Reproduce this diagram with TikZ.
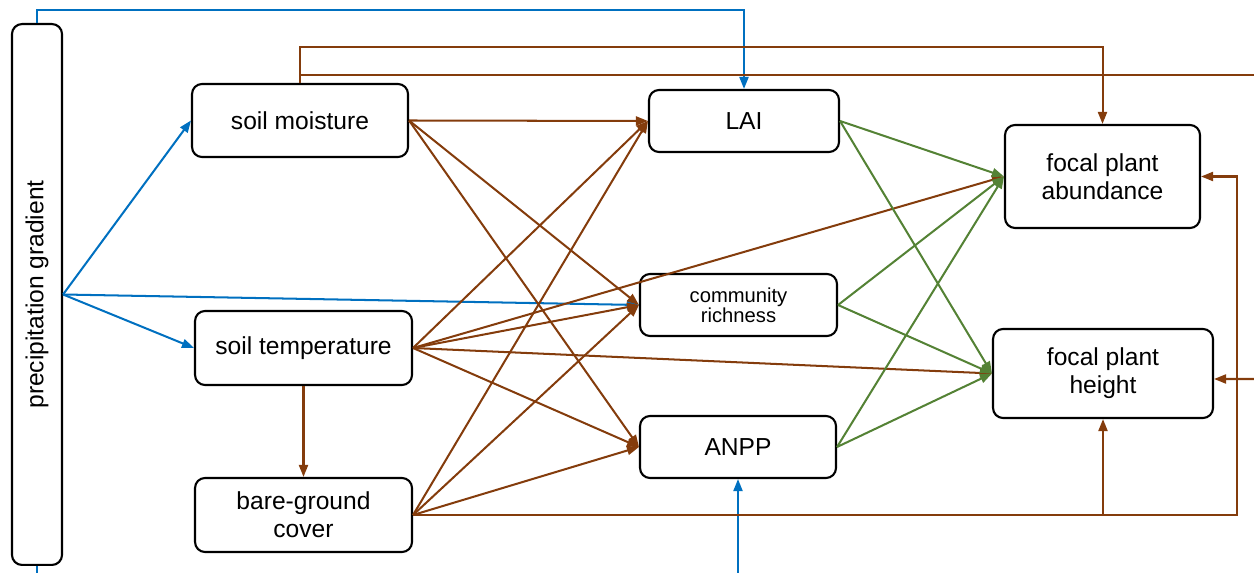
\documentclass[tikz,border=0pt]{standalone}
\usepackage{fontspec}
\setmainfont{Liberation Sans}
\usetikzlibrary{arrows.meta,calc}
\definecolor{cblue}{HTML}{0070C0}
\definecolor{cbrown}{HTML}{843C0C}
\definecolor{cgreen}{HTML}{548235}
\tikzset{
  box/.style={draw=black, line width=1.2pt, rounded corners=0.2cm, inner sep=0pt, align=center,
    font=\fontsize{14}{16}\selectfont},
  conn/.style={line width=1.15pt, -{Triangle[length=0.24cm,width=0.18cm]}},
  bluel/.style={conn, draw=cblue},
  brownl/.style={conn, draw=cbrown},
  greenl/.style={conn, draw=cgreen},
  plainbrown/.style={line width=1.15pt, draw=cbrown},
}
\begin{document}
\begin{tikzpicture}[x=0.02cm,y=-0.02cm]
\useasboundingbox (0,0) rectangle (1254,573);

% nodes
\node[box, minimum width=1.0cm, minimum height=10.82cm] (prec) at (37,294.5)
  {\rotatebox{90}{precipitation gradient}};
\node[box, minimum width=4.32cm, minimum height=1.46cm] (sm) at (300,120.5) {\raisebox{-1.5pt}{soil moisture}};
\node[box, minimum width=4.34cm, minimum height=1.48cm] (st) at (303.5,348) {\raisebox{-1.5pt}{soil temperature}};
\node[box, minimum width=4.34cm, minimum height=1.48cm] (bg) at (303.5,515) {bare-ground\\cover};
\node[box, minimum width=3.8cm, minimum height=1.24cm] (lai) at (744,121) {LAI};
\node[box, minimum width=3.94cm, minimum height=1.24cm, font=\fontsize{11.5}{11.5}\selectfont] (cr) at (738.5,305) {community\\richness};
\node[box, minimum width=3.92cm, minimum height=1.24cm] (anpp) at (738,447) {ANPP};
\node[box, minimum width=3.9cm, minimum height=2.06cm] (fpa) at (1102.5,176.5) {focal plant\\abundance};
\node[box, minimum width=4.4cm, minimum height=1.78cm] (fph) at (1103,373.5) {focal plant\\height};

% blue connectors
\draw[bluel] (prec.north) -- ++(0,-13) -| (lai.north);
\draw[bluel] (prec.south) -- (37,600) -| (anpp.south);
\draw[bluel] (prec.east) -- (sm.west);
\draw[bluel] (prec.east) -- (st.west);
\draw[bluel] (prec.east) -- (cr.west);

% brown connectors from soil moisture
\draw[brownl] (sm.north) -- (sm.north |- 0,47) -| (fpa.north);
\coordinate (offr) at (1280,75);
\draw[plainbrown] (sm.north) -- (sm.north |- offr) -- (offr) -- (1280,379);
\draw[brownl] (1280,379) -- ($(fph.east)+(0,5.5)$);
\draw[brownl] (sm.east) -- (lai.west);
\draw[brownl] (sm.east) -- (cr.west);
\draw[brownl] (sm.east) -- (anpp.west);

% brown connectors from soil temperature
\draw[brownl] (st.south) -- (bg.north);
\draw[brownl] (st.east) -- (lai.west);
\draw[brownl] (st.east) -- (cr.west);
\draw[brownl] (st.east) -- (anpp.west);
\draw[brownl] (st.east) -- (fpa.west);
\draw[brownl] (st.east) -- (fph.west);

% brown connectors from bare-ground cover
\draw[brownl] (bg.east) -- (lai.west);
\draw[brownl] (bg.east) -- (cr.west);
\draw[brownl] (bg.east) -- (anpp.west);
\draw[brownl] (bg.east) -| (fph.south);
\coordinate (rb) at (1237,515);
\draw[brownl] (bg.east) -- (rb) |- (fpa.east);

% green connectors
\foreach \s in {lai,cr,anpp}{
  \draw[greenl] (\s.east) -- (fpa.west);
  \draw[greenl] (\s.east) -- (fph.west);
}
\end{tikzpicture}
\end{document}
